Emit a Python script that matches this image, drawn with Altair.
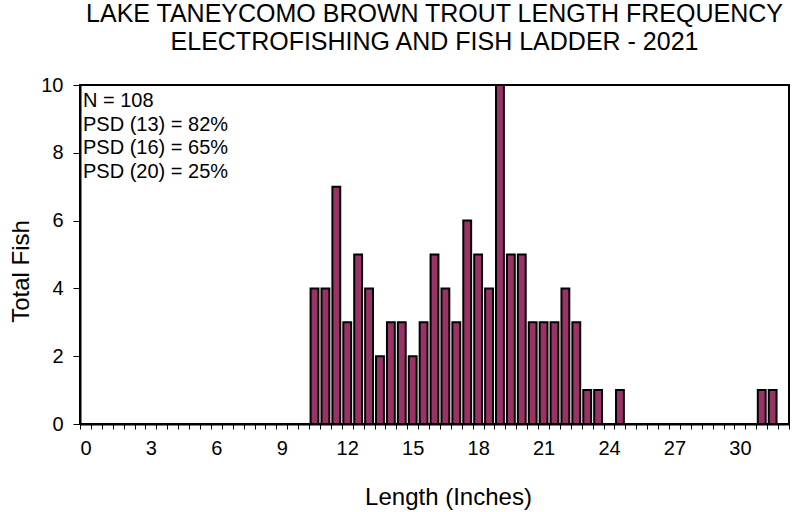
import altair as alt
import pandas as pd

# Length classes (inches, half-inch bins) and fish counts
lengths = [0, 0.5, 1, 1.5, 2, 2.5, 3, 3.5, 4, 4.5, 5, 5.5, 6, 6.5, 7, 7.5,
           8, 8.5, 9, 9.5, 10, 10.5, 11, 11.5, 12, 12.5, 13, 13.5, 14, 14.5,
           15, 15.5, 16, 16.5, 17, 17.5, 18, 18.5, 19, 19.5, 20, 20.5, 21,
           21.5, 22, 22.5, 23, 23.5, 24, 24.5, 25, 25.5, 26, 26.5, 27, 27.5,
           28, 28.5, 29, 29.5, 30, 30.5, 31, 31.5, 32]
counts = [0, 0, 0, 0, 0, 0, 0, 0, 0, 0, 0, 0, 0, 0, 0, 0,
          0, 0, 0, 0, 0, 4, 4, 7, 3, 5, 4, 2, 3, 3,
          2, 3, 5, 4, 3, 6, 5, 4, 10, 5, 5, 3, 3,
          3, 4, 3, 1, 1, 0, 1, 0, 0, 0, 0, 0, 0,
          0, 0, 0, 0, 0, 0, 1, 1, 0]
y_ticks = [0, 2, 4, 6, 8, 10]
notes = ["N = 108", "PSD (13) = 82%", "PSD (16) = 65%", "PSD (20) = 25%"]
title_lines = ["LAKE TANEYCOMO BROWN TROUT LENGTH FREQUENCY",
               "ELECTROFISHING AND FISH LADDER - 2021"]

df = pd.DataFrame({"length": lengths, "count": counts})
df = df[df["count"] > 0]

FONT = "Liberation Sans"

x_enc = alt.X(
    "length:O",
    scale=alt.Scale(domain=lengths, paddingInner=0, paddingOuter=0),
    axis=alt.Axis(
        title="Length (Inches)",
        tickBand="extent",
        labelExpr="datum.value % 3 === 0 ? datum.label : ''",
        labelOverlap=False,
        labelAngle=0,
        tickSize=5,
        labelPadding=9,
        titlePadding=27,
        titleX=368,
    ),
)

bars = alt.Chart(df).mark_bar(
    width=alt.RelativeBandSize(0.72),
    color="#993366",
    stroke="black",
    strokeWidth=2,
).encode(
    x=x_enc,
    y=alt.Y(
        "count:Q",
        scale=alt.Scale(domain=[0, 10], nice=False),
        axis=alt.Axis(title="Total Fish", values=y_ticks, tickSize=7,
                      labelPadding=10, titlePadding=7, grid=False,
                      titleY=186),
    ),
)

note = alt.Chart(pd.DataFrame({"t": ["\n".join(notes)]})).mark_text(
    align="left", baseline="top", font=FONT, fontSize=20, lineHeight=23.5,
    lineBreak="\n", color="black",
).encode(x=alt.value(3), y=alt.value(6), text="t:N")

chart = alt.layer(bars, note).properties(
    width=709,
    height=339,
    title=alt.TitleParams(title_lines, fontSize=25, font=FONT, fontWeight="normal",
                          anchor="middle", offset=20, lineHeight=28, color="black"),
    autosize=alt.AutoSizeParams(type="none"),
    padding={"left": 80, "top": 85, "right": 20, "bottom": 88},
).configure_view(
    stroke="black", strokeWidth=2,
).configure_axis(
    labelFont=FONT, titleFont=FONT, labelFontSize=20, titleFontSize=24,
    titleFontWeight="normal", labelColor="black", titleColor="black",
    domainColor="black", domainWidth=2, tickColor="black", tickWidth=1,
)

chart.save("out.html", embed_options={"renderer": "svg", "actions": False})
